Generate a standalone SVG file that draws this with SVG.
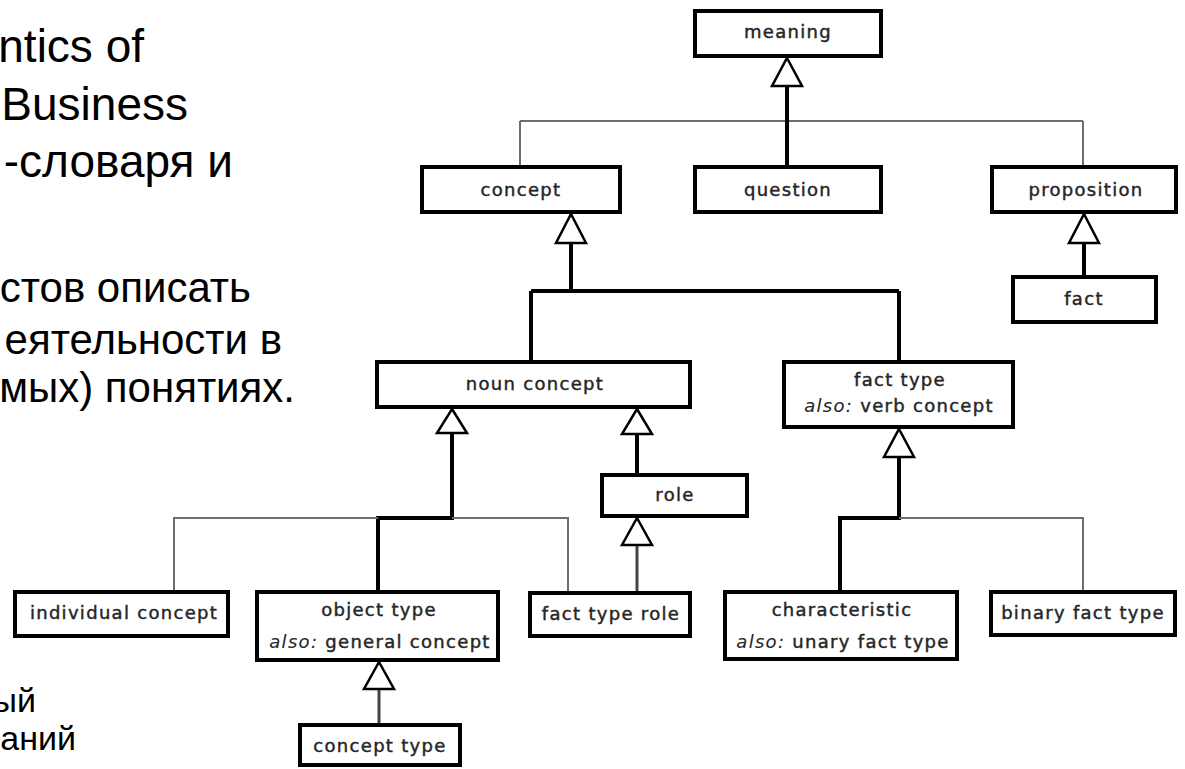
<svg xmlns="http://www.w3.org/2000/svg" width="1185" height="769" viewBox="0 0 1185 769">
  <style>
    .slide { font-family: "Liberation Sans", Arial, sans-serif; font-size: 46px; fill: #000; text-anchor: end; }
    .slide.mid2 { font-size: 42px; }
    .slide.small { font-size: 34px; }
    .box { fill: #fff; stroke: #000; stroke-width: 4; }
    .lbl { font-family: "DejaVu Sans", Verdana, sans-serif; font-size: 18px; letter-spacing: 1.3px; fill: #262626; stroke: #262626; stroke-width: 0.45px; text-anchor: middle; }
    .lbl .it { font-style: italic; stroke-width: 0.1px; }
    .main { fill: none; stroke: #000; stroke-width: 4; }
    .thin { fill: none; stroke: #6e6e6e; stroke-width: 2; }
    .mid { fill: none; stroke: #444; stroke-width: 3; }
    .gen { fill: #fff; stroke: #000; stroke-width: 2.5; stroke-linejoin: miter; }
  </style>

  <!-- slide text, clipped at the left edge of the page -->
  <g id="slide-text">
    <text class="slide" x="144" y="62">ntics of</text>
    <text class="slide" x="188" y="120">Business</text>
    <text class="slide" x="233" y="177">-словаря и</text>
    <text class="slide mid2" x="251" y="302">стов описать</text>
    <text class="slide mid2" x="282" y="354">еятельности в</text>
    <text class="slide mid2" x="295" y="402">мых) понятиях.</text>
    <text class="slide small" x="36" y="712">ый</text>
    <text class="slide small" x="76" y="750">аний</text>
  </g>

  <!-- generalization connectors -->
  <g id="connectors">
    <!-- meaning -->
    <path class="thin" d="M520 121 H1083 M520 121 V165 M1083 121 V165"/>
    <path class="main" d="M787 86 V165"/>
    <!-- concept -->
    <path class="main" d="M571 243 V291 M531 291 H899 M531 291 V360 M899 291 V360"/>
    <!-- proposition -->
    <path class="main" d="M1084 243 V275"/>
    <!-- noun concept -->
    <path class="main" d="M452 432 V518 H378 V590"/>
    <path class="thin" d="M378 518 H174 V590 M452 518 H568 V591"/>
    <path class="main" d="M637 434 V473"/>
    <!-- role -->
    <path class="mid" d="M637 545 V591"/>
    <!-- fact type -->
    <path class="main" d="M899 457 V518 H840 V590"/>
    <path class="thin" d="M899 518 H1083 V590"/>
    <!-- object type -->
    <path class="mid" d="M379 689 V723"/>

    <!-- hollow triangle heads -->
    <polygon class="gen" points="787,58 802,86 772,86"/>
    <polygon class="gen" points="571,214 586,243 556,243"/>
    <polygon class="gen" points="1084,214 1099,243 1069,243"/>
    <polygon class="gen" points="452,409 467,433 437,433"/>
    <polygon class="gen" points="637,409 652,434 622,434"/>
    <polygon class="gen" points="637,518 652,545 622,545"/>
    <polygon class="gen" points="899,429 914,457 884,457"/>
    <polygon class="gen" points="379,662 394,689 364,689"/>
  </g>

  <g id="meaning">
    <rect class="box" x="695" y="11" width="186" height="45"/>
    <text class="lbl" x="788" y="38">meaning</text>
  </g>
  <g id="concept">
    <rect class="box" x="422" y="167" width="198" height="45"/>
    <text class="lbl" x="521" y="196">concept</text>
  </g>
  <g id="question">
    <rect class="box" x="695" y="167" width="186" height="45"/>
    <text class="lbl" x="788" y="196">question</text>
  </g>
  <g id="proposition">
    <rect class="box" x="992" y="167" width="184" height="45"/>
    <text class="lbl" x="1086" y="196">proposition</text>
  </g>
  <g id="fact">
    <rect class="box" x="1013" y="277" width="143" height="45"/>
    <text class="lbl" x="1084" y="305">fact</text>
  </g>
  <g id="noun-concept">
    <rect class="box" x="377" y="362" width="313" height="45"/>
    <text class="lbl" x="535" y="390">noun concept</text>
  </g>
  <g id="fact-type">
    <rect class="box" x="784" y="362" width="229" height="65"/>
    <text class="lbl" x="900" y="386">fact type</text>
    <text class="lbl" x="899" y="412"><tspan class="it">also:</tspan> verb concept</text>
  </g>
  <g id="role">
    <rect class="box" x="602" y="475" width="145" height="41"/>
    <text class="lbl" x="675" y="501">role</text>
  </g>
  <g id="individual-concept">
    <rect class="box" x="15" y="592" width="213" height="44"/>
    <text class="lbl" x="124" y="619">individual concept</text>
  </g>
  <g id="object-type">
    <rect class="box" x="257" y="592" width="241" height="68"/>
    <text class="lbl" x="379" y="616">object type</text>
    <text class="lbl" x="380" y="648"><tspan class="it">also:</tspan> general concept</text>
  </g>
  <g id="fact-type-role">
    <rect class="box" x="530" y="593" width="160" height="43"/>
    <text class="lbl" x="611" y="620">fact type role</text>
  </g>
  <g id="characteristic">
    <rect class="box" x="725" y="592" width="232" height="67"/>
    <text class="lbl" x="842" y="616">characteristic</text>
    <text class="lbl" x="843" y="648"><tspan class="it">also:</tspan> unary fact type</text>
  </g>
  <g id="binary-fact-type">
    <rect class="box" x="991" y="592" width="184" height="43"/>
    <text class="lbl" x="1083" y="619">binary fact type</text>
  </g>
  <g id="concept-type">
    <rect class="box" x="300" y="725" width="160" height="40"/>
    <text class="lbl" x="380" y="752">concept type</text>
  </g>
</svg>
